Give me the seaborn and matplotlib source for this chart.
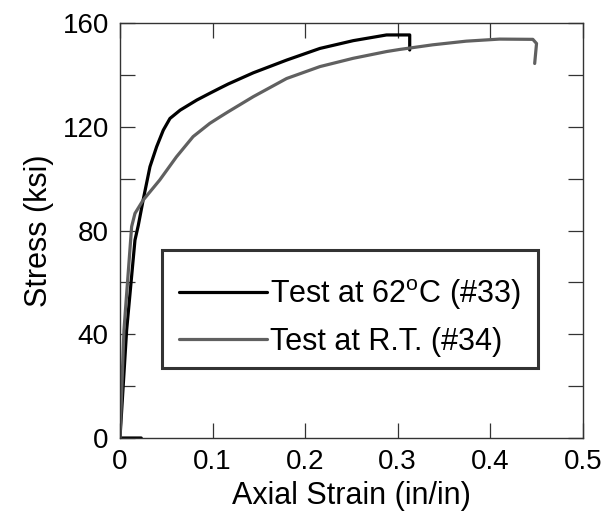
import matplotlib
matplotlib.use("Agg")
import matplotlib.pyplot as plt
from matplotlib.legend_handler import HandlerLine2D
from matplotlib.ticker import MultipleLocator, FuncFormatter
import pandas as pd
import seaborn as sns

# Test at 62 C (#33) -- starts with a short foot along the strain axis
strain_33 = [0.023, 0.0, 0.0072, 0.0162, 0.0198, 0.025, 0.0324, 0.0396, 0.0468,
             0.054, 0.065, 0.083, 0.097, 0.108, 0.117, 0.144, 0.180, 0.216,
             0.252, 0.288, 0.313, 0.313]
stress_33 = [0.0, 0.0, 41.6, 76.3, 82.0, 91.7, 104.6, 112.3, 118.7,
             123.2, 126.4, 130.3, 132.9, 134.9, 136.5, 140.8, 145.7, 150.2,
             153.2, 155.4, 155.4, 149.6]

# Test at R.T. (#34)
strain_34 = [0.0, 0.0043, 0.0126, 0.0162, 0.025, 0.043, 0.061, 0.079, 0.097,
             0.108, 0.117, 0.144, 0.180, 0.216, 0.252, 0.288, 0.302, 0.324,
             0.338, 0.374, 0.410, 0.446, 0.450, 0.448]
stress_34 = [0.0, 41.6, 81.5, 86.6, 91.7, 99.5, 108.4, 116.2, 121.3,
             123.8, 125.8, 131.6, 138.6, 143.2, 146.4, 149.0, 149.8, 150.9,
             151.6, 153.0, 153.8, 153.7, 152.1, 144.4]

labels = ["Test at 62$^{\\mathrm{o}}$C (#33)", "Test at R.T. (#34)"]
colors = ["#000000", "#606060"]

df = pd.concat([
    pd.DataFrame({"strain": strain_33, "stress": stress_33, "test": labels[0]}),
    pd.DataFrame({"strain": strain_34, "stress": stress_34, "test": labels[1]}),
], ignore_index=True)

sns.set_style("ticks")
plt.rcParams["font.family"] = ["Liberation Sans", "DejaVu Sans"]
plt.rcParams["mathtext.fontset"] = "custom"
plt.rcParams["mathtext.rm"] = "Liberation Sans"
for key in ["text.color", "axes.labelcolor", "xtick.labelcolor", "ytick.labelcolor"]:
    plt.rcParams[key] = "black"

fig = plt.figure(figsize=(6.09, 5.23), dpi=100)
ax = fig.add_axes([0.197, 0.1625, 0.760, 0.7935])

sns.lineplot(data=df, x="strain", y="stress", hue="test", hue_order=labels,
             palette=colors, sort=False, estimator=None,
             linewidth=2.3, ax=ax, legend=False)
for line, lab in zip(ax.lines, labels):
    line.set_label(lab)

ax.set_xlim(0, 0.5)
ax.set_ylim(0, 160)
ax.xaxis.set_major_locator(MultipleLocator(0.1))
ax.xaxis.set_major_formatter(FuncFormatter(lambda v, p: "0" if abs(v) < 1e-9 else f"{v:.1f}"))
ax.yaxis.set_major_locator(MultipleLocator(40))
ax.yaxis.set_minor_locator(MultipleLocator(20))
ax.tick_params(which="both", direction="in", length=11, width=0.9,
               top=True, right=True, labelsize=20, pad=8, color="#333333")
for sp in ax.spines.values():
    sp.set_linewidth(1.0)
    sp.set_color("#333333")

ax.set_xlabel("Axial Strain (in/in)", fontsize=22, labelpad=4)
ax.set_ylabel("Stress (ksi)", fontsize=22, labelpad=6)

leg = ax.legend(handles=ax.lines[:2], labels=labels, loc="lower left",
                bbox_to_anchor=(0.09, 0.169, 0.813, 0.284), mode="expand",
                fontsize=22, frameon=True, fancybox=False, handlelength=3.1,
                handletextpad=0.1, labelspacing=0.5, borderpad=0.35,
                borderaxespad=0, title=" ", title_fontsize=1,
                handler_map={ln: HandlerLine2D(xpad=0.23) for ln in ax.lines[:2]})
leg.get_frame().set_edgecolor("black")
leg.get_frame().set_linewidth(2.2)
for h in leg.get_lines():
    h.set_linewidth(2.3)

fig.savefig("out.png", dpi=100)
